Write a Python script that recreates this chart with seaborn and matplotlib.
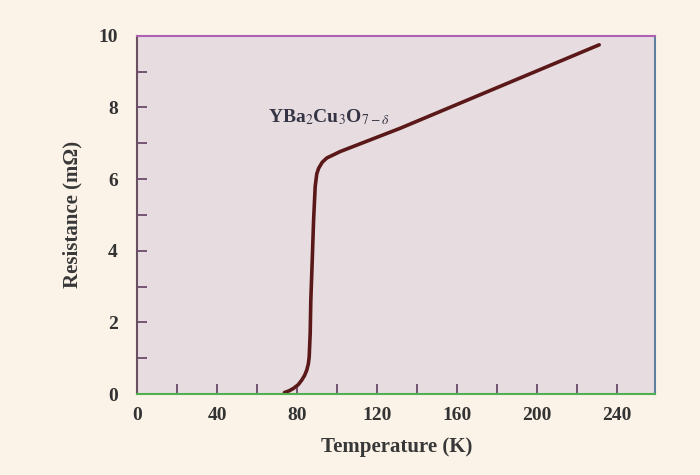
import numpy as np
import pandas as pd
import matplotlib
matplotlib.use("Agg")
import matplotlib.pyplot as plt
from matplotlib.ticker import MultipleLocator
import seaborn as sns

# values
temperature = [73.6, 76, 78.2, 80.5, 82.3, 83.7, 84.8, 85.6, 86.0, 86.5, 86.8,
               87.5, 88.2, 89.0, 89.8, 90.7, 92.5, 94.8, 101.5, 131.5, 231]
resistance = [0.04, 0.09, 0.16, 0.26, 0.39, 0.52, 0.67, 0.85, 1.04, 1.7, 2.6,
              3.7, 4.86, 5.8, 6.15, 6.3, 6.47, 6.59, 6.77, 7.42, 9.75]
x_ticks = [0, 40, 80, 120, 160, 200, 240]
y_ticks = [0, 2, 4, 6, 8, 10]
compound = r"YBa$_2$Cu$_3$O$_{7-\delta}$"

sns.set_style("white")
plt.rcParams["font.family"] = ["Liberation Serif", "DejaVu Serif"]
plt.rcParams["mathtext.fontset"] = "stix"

df = pd.DataFrame({"T": temperature, "R": resistance})

fig = plt.figure(figsize=(7, 4.75), dpi=100, facecolor="#fbf3e8")
ax = fig.add_axes([0.196, 0.1705, 0.74, 0.754])
ax.set_facecolor("#e7dde0")

sns.lineplot(data=df, x="T", y="R", ax=ax, color="#5a1818", linewidth=2.6,
             solid_capstyle="round", solid_joinstyle="round")

ax.set_xlim(0, 259)
ax.set_ylim(0, 10)
ax.set_xticks(x_ticks)
ax.set_yticks(y_ticks)
ax.xaxis.set_minor_locator(MultipleLocator(20))
ax.yaxis.set_minor_locator(MultipleLocator(1))
ax.tick_params(which="both", direction="in", length=7.5, width=1.3, color="#6a4a6a",
               bottom=True, left=True, top=False, right=False)
ax.tick_params(axis="both", labelsize=14, labelcolor="#333333")
ax.tick_params(axis="x", pad=9)
ax.tick_params(axis="y", pad=14)
for lab in ax.get_xticklabels() + ax.get_yticklabels():
    lab.set_fontweight("bold")

ax.set_xlabel("Temperature (K)", fontsize=15, fontweight="bold", color="#383838", labelpad=10)
ax.set_ylabel("Resistance (m\u03a9)", fontsize=15, fontweight="bold", color="#383838", labelpad=11)

ax.text(65.5, 7.74, compound, fontsize=14, fontweight="bold", color="#343444",
        ha="left", va="center")

spine_colors = {"top": "#b060b0", "bottom": "#50b050", "left": "#6a5060", "right": "#6080a0"}
for side, col in spine_colors.items():
    ax.spines[side].set_visible(True)
    ax.spines[side].set_color(col)
    ax.spines[side].set_linewidth(1.5)

fig.savefig("out.png", dpi=100, facecolor=fig.get_facecolor())
